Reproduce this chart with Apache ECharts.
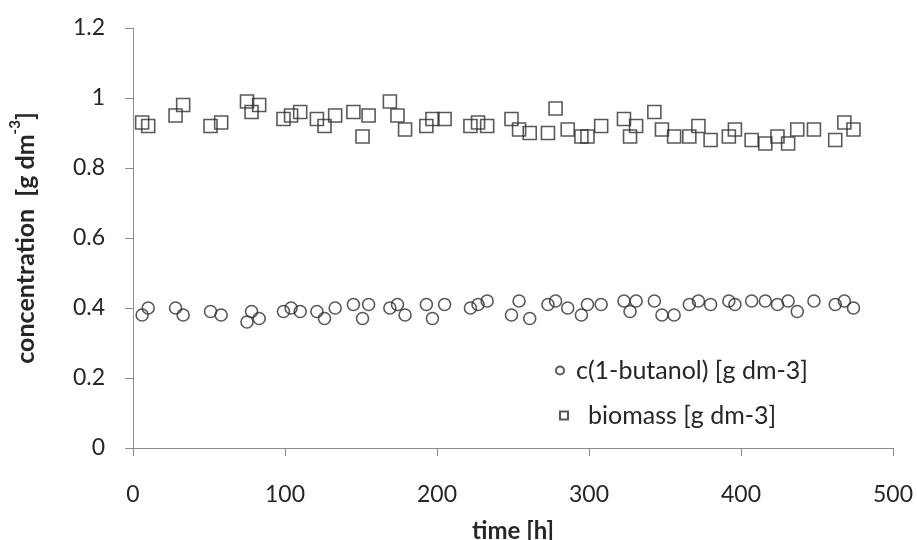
<!DOCTYPE html>
<html>
<head>
<meta charset="utf-8">
<script src="https://cdn.jsdelivr.net/npm/echarts@6/dist/echarts.min.js"></script>
<style>
  html, body { margin: 0; padding: 0; background: #fff; }
  #chart { width: 917px; height: 540px; }
</style>
</head>
<body>
<div id="chart"></div>
<script>
// sample times [h], shared by both series
const times = [6, 10, 28, 33, 51, 58, 75, 78, 83, 99, 104, 110, 121, 126, 133, 145, 151, 155,
  169, 174, 179, 193, 197, 205, 222, 227, 233, 249, 254, 261, 273, 278, 286, 295, 299, 308, 323, 327, 331,
  343, 348, 356, 366, 372, 380, 392, 396, 407, 416, 424, 431, 437, 448, 462, 468, 474];

const butanol = [0.38, 0.40, 0.40, 0.38, 0.39, 0.38, 0.36, 0.39, 0.37, 0.39, 0.40, 0.39, 0.39, 0.37, 0.40, 0.41, 0.37, 0.41,
  0.40, 0.41, 0.38, 0.41, 0.37, 0.41, 0.40, 0.41, 0.42, 0.38, 0.42, 0.37, 0.41, 0.42, 0.40, 0.38, 0.41, 0.41, 0.42, 0.39, 0.42,
  0.42, 0.38, 0.38, 0.41, 0.42, 0.41, 0.42, 0.41, 0.42, 0.42, 0.41, 0.42, 0.39, 0.42, 0.41, 0.42, 0.40];

const biomass = [0.93, 0.92, 0.95, 0.98, 0.92, 0.93, 0.99, 0.96, 0.98, 0.94, 0.95, 0.96, 0.94, 0.92, 0.95, 0.96, 0.89, 0.95,
  0.99, 0.95, 0.91, 0.92, 0.94, 0.94, 0.92, 0.93, 0.92, 0.94, 0.91, 0.90, 0.90, 0.97, 0.91, 0.89, 0.89, 0.92, 0.94, 0.89, 0.92,
  0.96, 0.91, 0.89, 0.89, 0.92, 0.88, 0.89, 0.91, 0.88, 0.87, 0.89, 0.87, 0.91, 0.91, 0.88, 0.93, 0.91];

const NAME_BUT = 'c(1-butanol) [g dm-3]';
const NAME_BIO = 'biomass [g dm-3]';

const FONT = 'Lato, "Open Sans", sans-serif';
const AXIS_COLOR = '#8c8c8c';
const MARK_COLOR = '#303030';
const TEXT_COLOR = '#262626';

const pair = (ys) => times.map((t, i) => [t, ys[i]]);

const chart = echarts.init(document.getElementById('chart'));
chart.setOption({
  animation: false,
  textStyle: { fontFamily: FONT },
  // fixed plot box, labels sit outside it
  grid: { left: 133, right: 24, top: 28, bottom: 92, containLabel: false, outerBoundsMode: 'none' },
  legend: [
    {
      data: [NAME_BUT], left: 555, top: 358, padding: 0,
      icon: 'circle', itemWidth: 8, itemHeight: 8,
      textStyle: { fontFamily: FONT, fontSize: 25, color: TEXT_COLOR, padding: [0, 0, 0, 7] },
    },
    {
      data: [NAME_BIO], left: 559, top: 403, padding: 0,
      icon: 'rect', itemWidth: 8, itemHeight: 8,
      textStyle: { fontFamily: FONT, fontSize: 25, color: TEXT_COLOR, padding: [0, 0, 0, 15] },
    },
  ],
  xAxis: {
    type: 'value', min: 0, max: 500, interval: 100,
    name: 'time [h]', nameLocation: 'middle', nameGap: 71,
    nameTextStyle: { fontFamily: FONT, fontSize: 24, fontWeight: 'bold', color: TEXT_COLOR },
    axisLine: { show: true, lineStyle: { color: AXIS_COLOR, width: 1 } },
    axisTick: { show: true, length: 8, lineStyle: { color: AXIS_COLOR } },
    axisLabel: { fontSize: 23, color: TEXT_COLOR, margin: 35 },
    splitLine: { show: false },
  },
  yAxis: {
    type: 'value', min: 0, max: 1.2, interval: 0.2,
    name: '{t|concentration  [g dm}{s|-3}{t|]}', nameLocation: 'middle', nameRotate: 90, nameGap: 95,
    nameTextStyle: {
      rich: {
        t: { fontFamily: FONT, fontSize: 25, fontWeight: 'bold', color: TEXT_COLOR, lineHeight: 30, verticalAlign: 'bottom' },
        s: { fontFamily: FONT, fontSize: 15, fontWeight: 'bold', color: TEXT_COLOR, lineHeight: 30, verticalAlign: 'top' },
      },
    },
    axisLine: { show: true, lineStyle: { color: AXIS_COLOR, width: 1 } },
    axisTick: { show: true, length: 8, lineStyle: { color: AXIS_COLOR } },
    axisLabel: { fontSize: 23, color: TEXT_COLOR, margin: 28 },
    splitLine: { show: false },
  },
  series: [
    {
      name: NAME_BUT, type: 'scatter', symbol: 'circle', symbolSize: 12,
      itemStyle: { color: 'rgba(0,0,0,0)', borderColor: MARK_COLOR, borderWidth: 1.6 },
      data: pair(butanol),
    },
    {
      name: NAME_BIO, type: 'scatter', symbol: 'rect', symbolSize: 13,
      itemStyle: { color: 'rgba(0,0,0,0)', borderColor: MARK_COLOR, borderWidth: 1.6 },
      data: pair(biomass),
    },
  ],
});
</script>
</body>
</html>
